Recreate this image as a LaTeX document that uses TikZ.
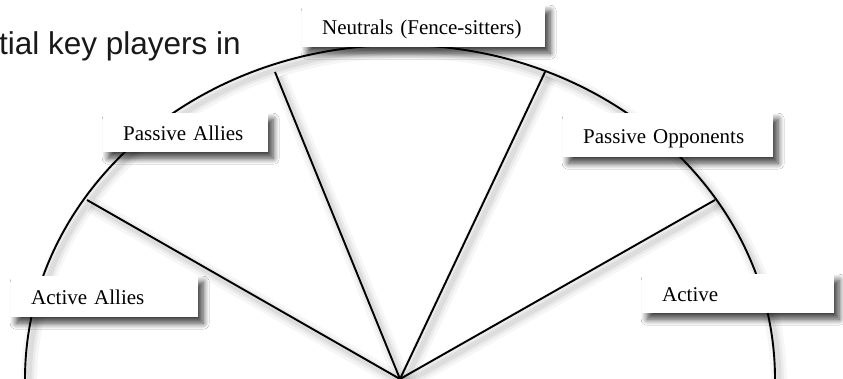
\documentclass[tikz,border=0pt]{standalone}
\usepackage{fontspec}
\setmainfont{Liberation Serif}
\newfontfamily\labelsans{Liberation Sans}
\usetikzlibrary{shadows.blur}
\begin{document}
\begin{tikzpicture}[x=1pt,y=-1pt,
  edge/.style={line width=1.9pt, draw=black},
  lshadow/.style={
    preaction={draw=black, draw opacity=0.035, line width=16pt, transform canvas={shift={(4pt,-5pt)}}},
    preaction={draw=black, draw opacity=0.045, line width=10pt, transform canvas={shift={(4pt,-5pt)}}},
    preaction={draw=black, draw opacity=0.06, line width=5pt, transform canvas={shift={(4pt,-5pt)}}}},
  tagbox/.style={fill=white, anchor=north west, inner xsep=20pt, inner ysep=0pt,
    align=left, text height=16pt, text depth=0pt, font=\fontsize{21}{24}\selectfont,
    blur shadow={shadow xshift=5pt, shadow yshift=-6pt, shadow blur radius=6pt,
      shadow blur steps=10, shadow opacity=75}},
]
\useasboundingbox (0,0) rectangle (843,379);
\fill[white] (0,0) rectangle (843,379);

\coordinate (c) at (400,379);
\coordinate (aL) at (25,379);
\coordinate (e1) at (87,200);
\coordinate (e2) at (275,72);
\coordinate (e3) at (545,72);
\coordinate (e4) at (715,200);

\draw[edge, lshadow] (aL) arc[start angle=180, end angle=0, x radius=375pt, y radius=334pt];
\draw[edge, lshadow] (c) -- (e1);
\draw[edge, lshadow] (c) -- (e2);
\draw[edge, lshadow] (c) -- (e3);
\draw[edge, lshadow] (c) -- (e4);

\node[font=\labelsans\fontsize{31.5}{36}\selectfont, text=black!90, anchor=base east, inner sep=0pt] (t) at (241,55) {tial key players in};

\node[tagbox, text width=203pt, minimum height=42pt] (n) at (302,5) {Neutrals (Fence-sitters)};
\node[tagbox, text width=125pt, minimum height=39pt] (pa) at (103,113) {Passive Allies};
\node[tagbox, text width=170pt, minimum height=44pt] (po) at (563,113) {Passive Opponents};
\node[tagbox, text width=147pt, minimum height=41pt] (aa) at (11,276) {Active Allies};
\node[tagbox, text width=152pt, minimum height=39pt] (ac) at (642,274) {Active};
\end{tikzpicture}
\end{document}
